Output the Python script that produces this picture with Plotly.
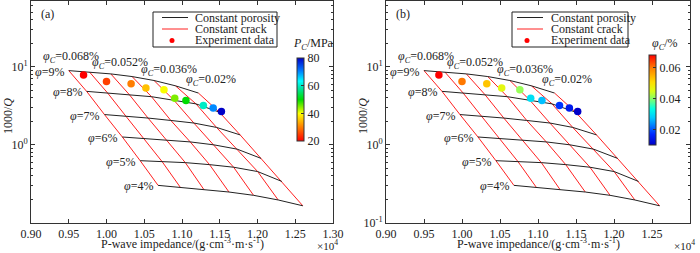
import math
import plotly.graph_objects as go

FONT = "Liberation Serif"
W, H = 700, 253

# ---------------- data ----------------
porosity_labels = ["9%", "8%", "7%", "6%", "5%", "4%"]
crack_labels = ["0.068%", "0.060%", "0.052%", "0.044%", "0.036%", "0.028%", "0.02%"]

# P-wave impedance (x10^4) of model grid; one list per constant porosity, columns = crack porosity
imp_phi9 = [0.9500, 0.9774, 1.0057, 1.0339, 1.0630, 1.0913, 1.1217]
imp_phi8 = [0.9737, 1.0015, 1.0303, 1.0596, 1.0894, 1.1185, 1.1494]
imp_phi7 = [0.9973, 1.0256, 1.0550, 1.0852, 1.1157, 1.1457, 1.1770]
imp_phi6 = [1.0210, 1.0497, 1.0797, 1.1109, 1.1421, 1.1730, 1.2047]
imp_phi5 = [1.0446, 1.0737, 1.1044, 1.1365, 1.1684, 1.2002, 1.2323]
imp_phi4 = [1.0683, 1.0978, 1.1291, 1.1622, 1.1948, 1.2274, 1.2600]

# 1000/Q of model grid
q_phi9 = [8.90, 8.56, 8.08, 7.47, 6.65, 5.69, 4.60]
q_phi8 = [4.83, 4.60, 4.38, 4.13, 3.71, 3.34, 2.62]
q_phi7 = [2.44, 2.33, 2.20, 2.05, 1.90, 1.67, 1.34]
q_phi6 = [1.26, 1.21, 1.16, 1.09, 1.00, 0.881, 0.671]
q_phi5 = [0.627, 0.609, 0.592, 0.558, 0.517, 0.455, 0.340]
q_phi4 = [0.303, 0.286, 0.267, 0.249, 0.226, 0.197, 0.166]

# experiment data
exp_imp = [0.9696, 1.0000, 1.0326, 1.0522, 1.0761, 1.0904, 1.1052, 1.1283, 1.1413, 1.1522]
exp_q = [7.84, 6.46, 6.03, 5.32, 5.07, 3.94, 3.68, 3.18, 2.97, 2.67]
exp_pc = [20, 25, 30, 35, 40, 45, 50, 60, 70, 80]  # confining pressure, MPa
exp_phic = [0.068, 0.060, 0.053, 0.046, 0.041, 0.030, 0.027, 0.018, 0.015, 0.0103]  # crack porosity, %

x_ticks = [0.90, 0.95, 1.00, 1.05, 1.10, 1.15, 1.20, 1.25, 1.30]
pc_ticks = [20, 40, 60, 80]
phic_ticks = [0.02, 0.04, 0.06]

imp_rows = [imp_phi9, imp_phi8, imp_phi7, imp_phi6, imp_phi5, imp_phi4]
q_rows = [q_phi9, q_phi8, q_phi7, q_phi6, q_phi5, q_phi4]

# ---------------- styling ----------------
scale_pc = [[0.0, "rgb(255,0,0)"], [0.17, "rgb(255,128,0)"], [0.33, "rgb(255,255,0)"],
            [0.5, "rgb(0,220,0)"], [0.65, "rgb(0,230,180)"], [0.72, "rgb(0,255,255)"],
            [0.85, "rgb(0,120,255)"], [1.0, "rgb(0,0,200)"]]
scale_phic = [[0.0, "rgb(0,0,200)"], [0.12, "rgb(0,40,255)"], [0.3, "rgb(0,200,255)"],
              [0.4, "rgb(0,255,230)"], [0.5, "rgb(120,255,120)"], [0.6, "rgb(220,255,20)"],
              [0.7, "rgb(255,220,0)"], [0.85, "rgb(255,130,0)"], [1.0, "rgb(255,0,0)"]]

fig = go.Figure()

panels = [
    dict(xa="x", ya="y", xd=(31, 333), color=exp_pc, scale=scale_pc, cmin=min(exp_pc), cmax=max(exp_pc),
         ticks=pc_ticks, ticktext=[str(v) for v in pc_ticks], cb_x=297, cb_top=58, cb_len=83,
         cb_title="<i>P</i><sub><i>C</i></sub>/MPa", cb_title_x=313, label="(a)", label_x=47,
         yt=[1, 10], ytt=["10<sup>0</sup>", "10<sup>1</sup>"],
         leg=dict(box=(153, 12, 277, 47), line=(162, 188), dot=172, text=193)),
    dict(xa="x2", ya="y2", xd=(386, 690), color=exp_phic, scale=scale_phic, cmin=min(exp_phic), cmax=max(exp_phic),
         ticks=phic_ticks, ticktext=["0.02", "0.04", "0.06"], cb_x=649, cb_top=55, cb_len=90,
         cb_title="<i>φ</i><sub><i>C</i></sub>/%", cb_title_x=665, label="(b)", label_x=403,
         yt=[0.1, 1, 10], ytt=["10<sup>-1</sup>", "10<sup>0</sup>", "10<sup>1</sup>"],
         leg=dict(box=(512, 12, 628, 47), line=(517, 543), dot=527, text=549)),
]

annotations = []
shapes = []

def px_x(p):
    return p / W

def px_y(p):
    return 1 - p / H

for pi, P in enumerate(panels):
    # constant crack (red) lines
    for c in range(len(crack_labels)):
        fig.add_trace(go.Scatter(
            x=[row[c] for row in imp_rows], y=[row[c] for row in q_rows],
            mode="lines", line=dict(color="#ff2020", width=1), xaxis=P["xa"], yaxis=P["ya"],
            showlegend=False, hoverinfo="skip"))
    # constant porosity (black) lines
    for r in range(len(porosity_labels)):
        fig.add_trace(go.Scatter(
            x=imp_rows[r], y=q_rows[r], mode="lines", line=dict(color="#222222", width=1),
            xaxis=P["xa"], yaxis=P["ya"], showlegend=False, hoverinfo="skip"))
    # experiment data
    fig.add_trace(go.Scatter(
        x=exp_imp, y=exp_q, mode="markers", xaxis=P["xa"], yaxis=P["ya"], showlegend=False,
        marker=dict(size=7.5, color=P["color"], colorscale=P["scale"], cmin=P["cmin"], cmax=P["cmax"],
                    line=dict(width=0),
                    colorbar=dict(x=px_x(P["cb_x"]), xanchor="left", y=px_y(P["cb_top"]), yanchor="top",
                                  len=P["cb_len"], lenmode="pixels", thickness=7, thicknessmode="pixels",
                                  xpad=0, ypad=0, outlinewidth=1, outlinecolor="#333",
                                  tickmode="array", tickvals=P["ticks"], ticktext=P["ticktext"],
                                  ticks="inside", ticklen=3, tickcolor="#333",
                                  tickfont=dict(family=FONT, size=12, color="#222")))))

    axref = P["xa"]; ayref = P["ya"]
    # porosity labels (log axis -> annotation y in log10)
    for r, lab in enumerate(porosity_labels):
        annotations.append(dict(x=imp_rows[r][0], y=math.log10(q_rows[r][0]), xref=axref, yref=ayref,
                                text="<i>φ</i>=" + lab, showarrow=False, xanchor="right",
                                yanchor="middle", xshift=-3, yshift=-1,
                                font=dict(family=FONT, size=12, color="#222")))
    # crack labels (every other column)
    shifts = {0: (2, 14), 2: (9, 11), 4: (15, 11), 6: (13, 13)}
    for c, (dx, dy) in shifts.items():
        annotations.append(dict(x=imp_rows[0][c], y=math.log10(q_rows[0][c]), xref=axref, yref=ayref,
                                text="<i>φ</i><sub><i>C</i></sub>=" + crack_labels[c], showarrow=False,
                                xanchor="center", yanchor="middle", xshift=dx, yshift=dy,
                                font=dict(family=FONT, size=12, color="#222")))
    x0, x1 = P["xd"]
    cx = (x0 + x1) / 2
    annotations += [
        dict(x=px_x(cx), y=px_y(243), xref="paper", yref="paper", showarrow=False,
             text="P-wave impedance/(g·cm<sup>-3</sup>·m·s<sup>-1</sup>)", xanchor="center", yanchor="middle",
             font=dict(family=FONT, size=12, color="#222")),
        dict(x=px_x(x1 - 6), y=px_y(245), xref="paper", yref="paper", showarrow=False,
             text="×10<sup>4</sup>", xanchor="center", yanchor="middle",
             font=dict(family=FONT, size=11, color="#222")),
        dict(x=px_x(x0 - 23), y=px_y(116), xref="paper", yref="paper", showarrow=False,
             text="1000/<i>Q</i>", textangle=-90, xanchor="center", yanchor="middle",
             font=dict(family=FONT, size=12, color="#222")),
        dict(x=px_x(P["label_x"]), y=px_y(14), xref="paper", yref="paper", showarrow=False,
             text=P["label"], xanchor="center", yanchor="middle",
             font=dict(family=FONT, size=12, color="#222")),
        dict(x=px_x(P["cb_title_x"]), y=px_y(44), xref="paper", yref="paper", showarrow=False,
             text=P["cb_title"], xanchor="center", yanchor="middle",
             font=dict(family=FONT, size=12, color="#222")),
    ]
    # manual legend
    L = P["leg"]
    bx0, by0, bx1, by1 = L["box"]
    shapes.append(dict(type="rect", xref="paper", yref="paper", x0=px_x(bx0), x1=px_x(bx1),
                       y0=px_y(by1), y1=px_y(by0), line=dict(color="#222", width=1), fillcolor="white", layer="above"))
    rows_y = [17.5, 29, 40.5]
    shapes.append(dict(type="line", xref="paper", yref="paper", x0=px_x(L["line"][0]), x1=px_x(L["line"][1]),
                       y0=px_y(rows_y[0]), y1=px_y(rows_y[0]), line=dict(color="#222", width=1), layer="above"))
    shapes.append(dict(type="line", xref="paper", yref="paper", x0=px_x(L["line"][0]), x1=px_x(L["line"][1]),
                       y0=px_y(rows_y[1]), y1=px_y(rows_y[1]), line=dict(color="#ff2020", width=1), layer="above"))
    shapes.append(dict(type="circle", xref="paper", yref="paper", x0=px_x(L["dot"] - 2.5), x1=px_x(L["dot"] + 2.5),
                       y0=px_y(rows_y[2] + 2.5), y1=px_y(rows_y[2] - 2.5), line=dict(width=0),
                       fillcolor="#ff0000", layer="above"))
    for ry, txt in zip(rows_y, ["Constant porosity", "Constant crack", "Experiment data"]):
        annotations.append(dict(x=px_x(L["text"]), y=px_y(ry), xref="paper", yref="paper", showarrow=False,
                                text=txt, xanchor="left", yanchor="middle",
                                font=dict(family=FONT, size=12, color="#222")))

minor_y = [0.2, 0.3, 0.4, 0.5, 0.6, 0.7, 0.8, 0.9, 2, 3, 4, 5, 6, 7, 8, 9, 20, 30, 40, 50, 60]

def xaxis_cfg(P):
    return dict(domain=[P["xd"][0] / W, P["xd"][1] / W], range=[0.90, 1.30], tickmode="array",
                tickvals=x_ticks, ticktext=["%.2f" % v for v in x_ticks],
                showline=True, linecolor="#333", linewidth=1, mirror="ticks", ticks="inside",
                ticklen=4, tickcolor="#333", showgrid=False, zeroline=False, automargin=False,
                tickfont=dict(family=FONT, size=12, color="#222"))

def yaxis_cfg(P, anchor):
    return dict(domain=[1 - 223 / H, 1 - 1 / H], type="log", range=[-1, 1.84], tickmode="array",
                tickvals=P["yt"], ticktext=P["ytt"], anchor=anchor,
                showline=True, linecolor="#333", linewidth=1, mirror="ticks", ticks="inside",
                ticklen=4, tickcolor="#333", showgrid=False, zeroline=False, automargin=False,
                minor=dict(tickmode="array", tickvals=minor_y, ticks="inside", ticklen=2, tickcolor="#333"),
                tickfont=dict(family=FONT, size=12, color="#222"))

fig.update_layout(
    width=W, height=H, margin=dict(l=0, r=0, t=0, b=0),
    paper_bgcolor="white", plot_bgcolor="white", showlegend=False,
    xaxis=dict(xaxis_cfg(panels[0]), anchor="y"),
    yaxis=yaxis_cfg(panels[0], "x"),
    xaxis2=dict(xaxis_cfg(panels[1]), anchor="y2"),
    yaxis2=yaxis_cfg(panels[1], "x2"),
    annotations=annotations, shapes=shapes,
)

fig.write_html("out.html", config={"displayModeBar": False},
               post_script="document.body.style.margin='0';document.body.style.padding='0';")
